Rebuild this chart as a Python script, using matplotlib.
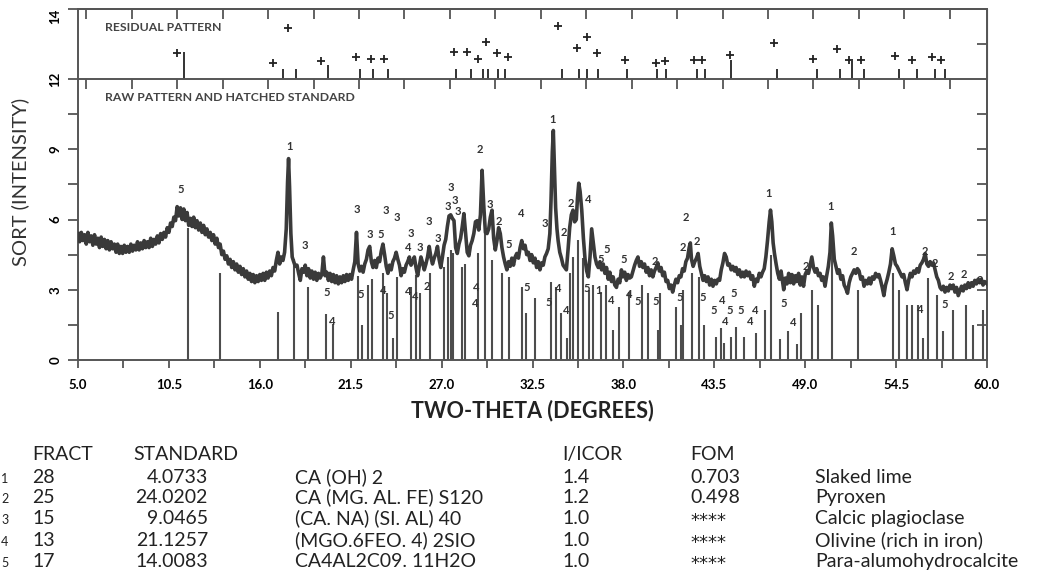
import matplotlib.pyplot as plt
from matplotlib.ticker import MultipleLocator, FixedLocator

# raw XRD pattern as (two-theta, sqrt intensity)
raw_low = [
    (5.00, 5.40), (5.10, 5.05), (5.20, 5.45), (5.30, 5.10), (5.40, 5.35), (5.50, 4.95), (5.60, 5.45),
    (5.70, 5.05), (5.80, 5.30), (5.90, 4.90), (6.00, 5.35), (6.10, 4.95), (6.20, 5.20), (6.30, 4.80),
    (6.40, 5.25), (6.50, 4.85), (6.60, 5.15), (6.70, 4.75), (6.80, 5.10), (6.90, 4.70), (7.00, 5.05),
    (7.10, 4.75), (7.20, 4.95), (7.30, 4.60), (7.40, 4.95), (7.50, 4.55), (7.60, 4.85), (7.70, 4.55),
    (7.80, 4.90), (7.90, 4.60), (8.00, 4.85), (8.10, 4.60), (8.20, 4.95), (8.30, 4.65), (8.40, 4.90),
    (8.50, 4.70), (8.60, 5.05), (8.70, 4.70), (8.80, 5.00), (8.90, 4.75), (9.00, 5.10), (9.10, 4.80),
    (9.20, 5.05), (9.30, 4.80), (9.40, 5.20), (9.50, 4.85), (9.60, 5.15), (9.70, 4.95), (9.80, 5.30),
    (9.90, 5.00), (10.00, 5.40), (10.10, 5.15), (10.20, 5.45), (10.30, 5.25), (10.40, 5.65), (10.50, 5.45),
    (10.60, 5.85), (10.70, 5.70), (10.80, 6.10), (10.90, 5.95), (11.00, 6.55), (11.10, 6.15), (11.20, 6.50),
    (11.30, 6.00), (11.40, 6.45), (11.50, 5.95), (11.60, 6.30), (11.70, 5.75), (11.80, 6.05), (11.90, 5.70),
    (12.00, 6.10), (12.10, 5.65), (12.20, 5.95), (12.30, 5.55), (12.40, 5.85), (12.50, 5.45), (12.60, 5.75),
    (12.70, 5.35), (12.80, 5.60), (12.90, 5.25), (13.00, 5.45), (13.10, 5.10), (13.20, 5.35), (13.30, 4.95),
    (13.40, 5.20), (13.50, 4.80), (13.60, 4.95), (13.70, 4.50), (13.80, 4.65), (13.90, 4.30), (14.00, 4.45),
    (14.10, 4.10), (14.20, 4.30), (14.30, 3.95), (14.40, 4.20), (14.50, 3.85), (14.60, 4.10), (14.70, 3.75),
    (14.80, 4.00), (14.90, 3.65), (15.00, 3.90), (15.10, 3.55), (15.20, 3.80), (15.30, 3.45), (15.40, 3.70),
    (15.50, 3.35), (15.60, 3.65), (15.70, 3.30), (15.80, 3.60), (15.90, 3.35), (16.00, 3.65), (16.10, 3.40),
    (16.20, 3.70), (16.30, 3.40), (16.40, 3.75), (16.50, 3.50), (16.60, 3.80), (16.70, 3.60), (16.80, 3.95),
    (16.90, 3.80), (17.00, 4.25), (17.10, 4.60), (17.20, 4.10), (17.30, 4.40), (17.40, 4.25), (17.50, 4.60),
    (17.60, 5.60), (17.68, 7.60), (17.74, 8.60), (17.80, 7.40), (17.88, 5.40), (17.96, 4.40), (18.05, 4.20),
    (18.15, 4.00), (18.25, 4.05), (18.35, 3.70), (18.45, 3.40), (18.55, 3.90), (18.65, 3.75), (18.75, 4.05),
    (18.85, 3.60), (18.95, 3.90),
]
raw_mid = [
    (19.05, 3.50), (19.15, 3.80), (19.25, 3.45), (19.35, 3.75), (19.45, 3.40), (19.55, 3.70), (19.65, 3.50),
    (19.75, 3.65), (19.85, 4.40), (19.95, 3.60), (20.05, 3.75), (20.15, 3.40), (20.25, 3.70), (20.35, 3.35),
    (20.45, 3.65), (20.55, 3.30), (20.65, 3.60), (20.75, 3.25), (20.85, 3.55), (20.95, 3.30), (21.05, 3.60),
    (21.15, 3.35), (21.25, 3.65), (21.35, 3.40), (21.45, 3.65), (21.55, 3.45), (21.65, 3.85), (21.75, 4.20),
    (21.85, 5.45), (21.95, 4.10), (22.05, 3.80), (22.15, 4.00), (22.25, 3.75), (22.35, 4.10), (22.45, 4.30),
    (22.55, 4.70), (22.65, 4.85), (22.75, 4.20), (22.85, 3.95), (22.95, 4.25), (23.05, 3.95), (23.15, 4.35),
    (23.25, 4.20), (23.35, 4.65), (23.45, 4.95), (23.55, 4.50), (23.65, 4.00), (23.75, 3.70), (23.85, 4.05),
    (23.95, 3.85), (24.05, 4.20), (24.15, 4.35), (24.25, 4.60), (24.35, 4.30), (24.45, 4.05), (24.55, 3.60),
    (24.65, 3.90), (24.75, 3.75), (24.85, 4.05), (24.95, 4.20), (25.05, 4.40), (25.15, 4.05), (25.25, 4.20),
    (25.35, 4.40), (25.45, 3.95), (25.55, 3.60), (25.65, 4.00), (25.75, 4.40), (25.85, 4.15), (25.95, 3.85),
    (26.05, 4.10), (26.15, 4.40), (26.25, 4.85), (26.35, 4.40), (26.45, 4.10), (26.55, 4.35), (26.65, 4.55),
    (26.75, 4.85), (26.85, 4.30), (26.95, 3.95), (27.05, 4.40), (27.15, 4.90), (27.25, 5.15), (27.35, 5.70),
    (27.45, 6.15), (27.55, 6.20), (27.65, 6.05), (27.75, 5.95), (27.85, 4.80), (27.95, 4.55), (28.05, 4.95),
    (28.15, 5.20), (28.25, 5.70), (28.35, 6.25), (28.45, 5.40), (28.55, 4.60), (28.65, 4.45), (28.75, 4.90),
    (28.85, 5.10), (28.95, 5.40), (29.05, 5.90), (29.15, 5.95), (29.25, 5.55), (29.35, 6.20), (29.45, 8.10),
    (29.55, 6.60), (29.65, 5.45), (29.75, 5.40), (29.85, 5.60), (29.95, 6.10), (30.05, 6.40), (30.15, 5.20),
    (30.25, 4.70), (30.35, 5.10), (30.45, 5.65), (30.55, 5.40), (30.65, 4.80), (30.75, 4.40), (30.85, 4.10),
    (30.95, 3.85), (31.05, 4.20), (31.15, 4.00), (31.25, 4.35), (31.35, 4.05), (31.45, 4.40), (31.55, 4.55),
    (31.65, 4.35), (31.75, 4.80), (31.85, 5.10), (31.95, 4.75), (32.05, 4.90), (32.15, 4.50), (32.25, 4.60),
    (32.35, 4.25), (32.45, 4.50), (32.55, 4.15), (32.65, 4.35), (32.75, 3.95), (32.85, 4.20), (32.95, 3.85),
]
raw_high = [
    (33.05, 4.15), (33.15, 4.05), (33.25, 4.40), (33.35, 4.55), (33.45, 4.75), (33.55, 5.40), (33.62, 6.80),
    (33.70, 8.90), (33.76, 9.80), (33.82, 8.40), (33.90, 6.50), (33.98, 5.60), (34.05, 5.10), (34.15, 4.60),
    (34.25, 4.35), (34.35, 4.05), (34.45, 3.95), (34.55, 3.85), (34.65, 4.70), (34.75, 5.65), (34.85, 6.20),
    (34.95, 6.40), (35.05, 5.90), (35.15, 6.00), (35.22, 6.90), (35.30, 7.55), (35.38, 7.20), (35.48, 6.40),
    (35.58, 5.20), (35.68, 4.30), (35.78, 3.80), (35.88, 3.55), (35.98, 4.40), (36.08, 5.60), (36.18, 5.00),
    (36.28, 4.40), (36.38, 4.10), (36.48, 3.95), (36.58, 4.20), (36.68, 3.85), (36.78, 4.10), (36.88, 3.70),
    (36.98, 3.95), (37.08, 3.45), (37.18, 3.75), (37.28, 3.35), (37.38, 3.55), (37.48, 3.20), (37.58, 3.10),
    (37.68, 3.45), (37.78, 3.30), (37.88, 3.85), (37.98, 3.55), (38.08, 3.75), (38.18, 3.40), (38.28, 3.65),
    (38.38, 3.50), (38.48, 3.55), (38.58, 3.80), (38.68, 4.05), (38.78, 4.25), (38.88, 4.40), (38.98, 4.00),
    (39.08, 4.20), (39.18, 3.95), (39.28, 4.10), (39.38, 3.75), (39.48, 3.95), (39.58, 3.60), (39.68, 3.85),
    (39.78, 3.55), (39.88, 3.80), (39.98, 3.95), (40.08, 4.15), (40.18, 3.80), (40.28, 3.95), (40.38, 3.60),
    (40.48, 3.75), (40.58, 3.35), (40.68, 3.40), (40.78, 3.05), (40.88, 3.20), (40.98, 2.90), (41.08, 3.20),
    (41.18, 3.45), (41.28, 3.30), (41.38, 3.60), (41.48, 3.55), (41.58, 3.90), (41.68, 3.80), (41.78, 4.20),
    (41.88, 4.35), (41.98, 4.80), (42.05, 5.00), (42.12, 4.30), (42.22, 4.00), (42.32, 4.20), (42.42, 4.35),
    (42.52, 4.55), (42.62, 4.00), (42.72, 3.70), (42.82, 3.40), (42.92, 3.60), (43.02, 3.35), (43.12, 3.55),
    (43.22, 3.20), (43.32, 3.45), (43.42, 3.15), (43.52, 3.40), (43.62, 3.25), (43.72, 3.45), (43.82, 3.40),
    (43.92, 3.85), (44.02, 4.15), (44.12, 4.55), (44.22, 4.40), (44.32, 4.05), (44.42, 4.10), (44.52, 3.85),
    (44.62, 4.00), (44.72, 3.80), (44.82, 3.95), (44.92, 3.65), (45.02, 3.85), (45.12, 3.55), (45.22, 3.75),
    (45.32, 3.55), (45.42, 3.80), (45.52, 3.60), (45.62, 3.75), (45.72, 3.45), (45.82, 3.60), (45.92, 3.15),
    (46.02, 3.45), (46.12, 3.35), (46.22, 3.70), (46.32, 3.55), (46.42, 3.75), (46.52, 3.90), (46.62, 4.40),
    (46.72, 5.10), (46.82, 5.90), (46.90, 6.40), (46.98, 5.90), (47.06, 5.00),
]
raw_tail = [
    (47.14, 4.55), (47.24, 4.10), (47.34, 3.70), (47.44, 3.45), (47.54, 3.80), (47.64, 3.30), (47.70, 3.00),
    (47.80, 3.50), (47.90, 3.25), (48.00, 3.70), (48.10, 3.30), (48.20, 3.65), (48.30, 3.25), (48.40, 3.60),
    (48.50, 3.35), (48.60, 3.70), (48.70, 3.20), (48.80, 3.55), (48.90, 3.15), (49.00, 3.65), (49.10, 3.80),
    (49.20, 3.70), (49.30, 4.05), (49.40, 4.40), (49.50, 3.95), (49.60, 3.75), (49.70, 3.90), (49.80, 3.60),
    (49.90, 3.70), (50.00, 3.40), (50.10, 3.55), (50.20, 3.15), (50.30, 3.60), (50.40, 4.00), (50.50, 4.60),
    (50.58, 5.85), (50.66, 5.30), (50.76, 4.30), (50.86, 4.00), (50.96, 3.70), (51.06, 3.85), (51.16, 3.45),
    (51.26, 3.60), (51.36, 3.20), (51.46, 3.05), (51.56, 2.85), (51.66, 3.30), (51.76, 3.55), (51.86, 3.70),
    (51.96, 3.85), (52.06, 3.70), (52.16, 3.90), (52.26, 3.80), (52.36, 3.45), (52.46, 3.55), (52.56, 3.15),
    (52.66, 3.40), (52.76, 3.25), (52.86, 3.50), (52.96, 3.25), (53.06, 3.55), (53.16, 3.45), (53.26, 3.70),
    (53.36, 3.55), (53.46, 3.65), (53.56, 3.40), (53.66, 3.10), (53.76, 2.75), (53.86, 3.20), (53.96, 3.45),
    (54.06, 3.75), (54.16, 4.10), (54.26, 4.75), (54.36, 4.45), (54.46, 4.10), (54.56, 4.00), (54.66, 3.85),
    (54.76, 3.70), (54.86, 3.55), (54.96, 3.65), (55.06, 3.30), (55.16, 3.00), (55.26, 3.40), (55.36, 3.70),
    (55.46, 3.55), (55.56, 3.80), (55.66, 3.70), (55.76, 3.90), (55.86, 3.75), (55.96, 4.05), (56.06, 4.15),
    (56.16, 4.30), (56.26, 4.55), (56.36, 4.10), (56.46, 4.00), (56.56, 4.20), (56.66, 4.05), (56.76, 4.15),
    (56.86, 3.85), (56.96, 3.55), (57.06, 3.40), (57.16, 3.10), (57.26, 3.00), (57.36, 3.15), (57.46, 2.90),
    (57.56, 3.10), (57.66, 2.95), (57.76, 3.20), (57.86, 3.05), (57.96, 3.20), (58.06, 2.90), (58.16, 3.10),
    (58.26, 2.75), (58.36, 2.95), (58.46, 3.15), (58.56, 2.95), (58.66, 3.20), (58.76, 3.05), (58.86, 3.30),
    (58.96, 3.10), (59.06, 3.30), (59.16, 3.15), (59.26, 3.40), (59.36, 3.25), (59.46, 3.45), (59.56, 3.30),
    (59.66, 3.45), (59.76, 3.20), (59.86, 3.35), (60.00, 3.25),
]

# hatched standard sticks (two-theta, height)
sticks = [
    (11.67, 5.62), (13.59, 3.73), (17.08, 2.06), (18.05, 4.30), (18.94, 3.13), (19.98, 1.95), (20.45, 1.55),
    (21.96, 3.60), (22.20, 1.49), (22.56, 3.20), (22.77, 3.48), (23.47, 3.70), (23.71, 2.85), (24.08, 0.92),
    (24.32, 3.56), (25.15, 3.13), (25.45, 3.63), (25.69, 2.85), (26.30, 3.70), (27.16, 3.98), (27.36, 4.41),
    (27.57, 4.69), (27.71, 4.55), (28.21, 3.98), (28.41, 4.10), (29.22, 4.55), (29.62, 5.41), (30.03, 4.27),
    (30.65, 3.70), (31.10, 3.56), (31.84, 3.13), (32.08, 1.99), (32.68, 2.63), (33.60, 3.34), (33.92, 3.13),
    (34.23, 1.99), (34.57, 0.92), (34.77, 3.70), (34.97, 4.41), (35.23, 5.12), (35.58, 4.34), (35.92, 2.99),
    (36.18, 3.20), (36.63, 2.92), (36.93, 3.20), (37.39, 1.28), (37.76, 2.28), (38.34, 2.92), (39.11, 3.20),
    (39.47, 2.85), (40.07, 1.28), (40.22, 2.85), (41.16, 2.28), (41.47, 1.49), (41.63, 2.99), (42.13, 3.70),
    (42.60, 3.56), (42.88, 1.49), (43.58, 0.99), (43.91, 1.35), (44.09, 0.71), (44.51, 0.99), (44.81, 1.42),
    (45.32, 0.99), (46.02, 1.14), (46.59, 2.15), (46.94, 4.50), (47.48, 0.88), (47.98, 1.25), (48.49, 0.67),
    (48.75, 2.02), (49.40, 2.99), (49.76, 2.35), (50.65, 4.84), (52.18, 2.99), (54.30, 3.70), (54.70, 2.99),
    (55.18, 2.35), (55.49, 2.35), (55.81, 2.35), (56.11, 0.92), (56.40, 3.49), (56.96, 2.77), (57.36, 1.25),
    (57.97, 2.13), (58.71, 2.35), (59.18, 1.49), (59.74, 2.13),
]

# phase numbers written over the peaks (two-theta, y, phase)
peak_labels = [
    (11.20, 7.30, "5"), (17.83, 9.10, "1"), (18.73, 4.88, "3"), (20.04, 2.87, "5"), (20.35, 1.63, "4"),
    (21.86, 6.43, "3"), (22.12, 2.80, "5"), (22.67, 5.36, "3"), (23.31, 5.36, "5"), (23.61, 6.40, "3"),
    (24.32, 6.08, "3"), (23.47, 2.96, "4"), (23.92, 1.92, "5"), (25.13, 5.41, "3"), (24.99, 4.81, "4"),
    (25.69, 4.80, "3"), (24.99, 2.94, "4"), (25.39, 2.73, "4"), (26.20, 5.93, "3"), (26.13, 3.16, "2"),
    (26.80, 5.19, "3"), (27.36, 6.55, "3"), (27.57, 7.36, "3"), (27.81, 6.83, "3"), (27.97, 6.33, "3"),
    (29.32, 9.01, "2"), (29.93, 6.65, "3"), (30.47, 5.90, "2"), (31.04, 4.94, "5"), (29.08, 3.09, "4"),
    (29.02, 2.42, "4"), (31.80, 6.26, "4"), (32.15, 3.09, "5"), (33.72, 10.25, "1"), (33.26, 5.83, "3"),
    (33.46, 2.45, "5"), (34.06, 3.06, "4"), (34.53, 2.10, "4"), (34.37, 5.45, "2"), (34.81, 6.69, "2"),
    (35.88, 6.87, "4"), (36.99, 4.72, "5"), (36.63, 4.31, "5"), (35.78, 3.06, "5"), (36.48, 2.96, "1"),
    (37.29, 2.53, "4"), (38.04, 4.30, "5"), (38.34, 2.80, "4"), (38.86, 2.49, "5"), (39.91, 4.20, "2"),
    (39.97, 2.49, "5"), (41.79, 6.08, "2"), (41.57, 4.81, "2"), (42.43, 5.05, "2"), (41.39, 2.67, "5"),
    (42.80, 2.67, "5"), (43.95, 2.56, "4"), (44.69, 2.85, "5"), (43.44, 2.10, "5"), (44.45, 2.10, "5"),
    (45.12, 2.10, "5"), (45.96, 2.10, "4"), (44.15, 1.63, "4"), (45.70, 1.63, "4"), (46.77, 7.11, "1"),
    (49.03, 3.98, "2"), (47.72, 2.42, "5"), (48.29, 1.59, "4"), (50.51, 6.57, "1"), (51.96, 4.62, "2"),
    (54.30, 5.48, "1"), (56.25, 4.65, "2"), (56.86, 4.10, "2"), (55.95, 2.16, "4"), (57.46, 2.35, "5"),
    (57.81, 3.56, "2"), (58.61, 3.63, "2"), (59.58, 3.41, "2"),
]

# residual pattern: crosses and short bars above the 12 line
residual_marks = [
    (10.97, 12.75), (16.82, 12.47), (17.73, 13.45), (19.70, 12.52), (21.82, 12.64), (22.73, 12.58),
    (23.52, 12.58), (27.77, 12.78), (28.52, 12.78), (29.23, 12.58), (29.69, 13.05), (30.33, 12.75),
    (31.00, 12.64), (34.03, 13.52), (35.18, 12.88), (35.78, 13.20), (36.39, 12.74), (38.10, 12.54),
    (39.98, 12.46), (40.52, 12.52), (42.29, 12.54), (42.77, 12.54), (44.45, 12.69), (47.11, 13.02),
    (49.45, 12.57), (50.90, 12.85), (51.67, 12.54), (52.37, 12.54), (54.43, 12.67), (55.48, 12.55),
    (56.65, 12.64), (57.21, 12.55),
]
residual_bars = [
    (11.43, 12.78), (17.38, 12.28), (18.19, 12.28), (20.15, 12.40), (22.07, 12.28), (22.87, 12.28),
    (23.74, 12.28), (27.85, 12.28), (28.76, 12.28), (29.49, 12.28), (29.83, 12.28), (30.44, 12.28),
    (30.84, 12.28), (34.27, 12.28), (35.34, 12.28), (35.78, 12.28), (36.49, 12.28), (38.20, 12.28),
    (40.02, 12.28), (40.58, 12.28), (42.43, 12.28), (42.93, 12.28), (44.49, 12.55), (47.31, 12.28),
    (49.69, 12.28), (51.10, 12.28), (51.81, 12.52), (52.57, 12.28), (54.69, 12.28), (55.78, 12.28),
    (56.85, 12.28), (57.45, 12.28),
]

# identification table under the chart
table_header = ["FRACT", "STANDARD", "I/ICOR", "FOM"]
fract = ["28", "25", "15", "13", "17"]
standard = ["4.0733", "24.0202", "9.0465", "21.1257", "14.0083"]
formula = ["CA (OH) 2", "CA (MG. AL. FE) S120", "(CA. NA) (SI. AL) 40", "(MGO.6FEO. 4) 2SIO", "CA4AL2C09. 11H2O"]
i_icor = ["1.4", "1.2", "1.0", "1.0", "1.0"]
fom = ["0.703", "0.498", "****", "****", "****"]
mineral = ["Slaked lime", "Pyroxen", "Calcic plagioclase", "Olivine (rich in iron)", "Para-alumohydrocalcite"]

W, H = 1045, 574
AX_COL = '#555555'
FONT = ['Lato', 'DejaVu Sans']


def fx(px):
    return px / W


def fy(py):
    return 1 - py / H


fig = plt.figure(figsize=(W / 100, H / 100), dpi=100)
left, right = 78, 987
ax = fig.add_axes([fx(left), fy(360), fx(right - left), (360 - 79) / H])
ax_top = fig.add_axes([fx(left), fy(79), fx(right - left), (79 - 9) / H])

# main pattern
for t, h in sticks:
    ax.plot([t, t], [0, h], color='#4d4d4d', lw=1.5, solid_capstyle='butt', zorder=2)
trace = raw_low + raw_mid + raw_high + raw_tail
ax.plot([p[0] for p in trace], [p[1] for p in trace], color='#3a3a3a', lw=2.6, zorder=3)
for t, y, s in peak_labels:
    ax.text(t, y, s, ha='center', va='center', fontsize=8, fontweight='bold', color='#333333',
            family=FONT, zorder=4)

ax.set_xlim(5, 60)
ax.set_ylim(0, 12)
ax.spines['top'].set_visible(False)
for sp in ax.spines.values():
    sp.set_color(AX_COL)
    sp.set_linewidth(1.4)
ax.xaxis.set_major_locator(FixedLocator([5 + 5.5 * i for i in range(11)]))
ax.xaxis.set_minor_locator(FixedLocator([7.75 + 5.5 * i for i in range(10)]))
ax.set_xticklabels([f"{5 + 5.5 * i:.1f}" for i in range(11)])
ax.tick_params(axis='x', which='both', direction='out', length=6, width=1.3, color=AX_COL,
               labelsize=9.5, pad=8)
for lbl in ax.get_xticklabels():
    lbl.set_fontweight('bold')
    lbl.set_family(FONT)
ax.yaxis.set_major_locator(FixedLocator([0, 3, 6, 9]))
ax.yaxis.set_minor_locator(FixedLocator([1.5, 4.5, 7.5, 10.5]))
ax.tick_params(axis='y', which='both', direction='out', length=7, width=1.3, color=AX_COL,
               labelsize=9.5, pad=5)
for lbl in ax.get_yticklabels():
    lbl.set_rotation(90)
    lbl.set_va('center')
    lbl.set_fontweight('bold')
    lbl.set_family(FONT)
sec_r = ax.secondary_yaxis('right')
sec_r.yaxis.set_major_locator(FixedLocator([1.5 * i for i in range(1, 8)]))
sec_r.tick_params(direction='in', length=7, width=1.3, color=AX_COL, labelright=False)
sec_r.spines['right'].set_color(AX_COL)
sec_r.spines['right'].set_linewidth(1.4)
ax.text(0.03, 0.935, "RAW PATTERN AND HATCHED STANDARD", transform=ax.transAxes, fontsize=8.8,
        fontweight='bold', color='#444444', family=FONT, va='center')

# residual panel
for t, h in residual_bars:
    ax_top.plot([t, t], [12, h], color='#333333', lw=1.4, solid_capstyle='butt')
ax_top.plot([p[0] for p in residual_marks], [p[1] for p in residual_marks], ls='none', marker='+',
            ms=5.5, mew=1.3, color='#222222')
ax_top.set_xlim(5, 60)
ax_top.set_ylim(12, 14)
for sp in ax_top.spines.values():
    sp.set_color(AX_COL)
    sp.set_linewidth(1.4)
ax_top.xaxis.set_major_locator(MultipleLocator(2.75))
ax_top.tick_params(axis='x', direction='out', length=7, width=1.3, color=AX_COL, labelbottom=False)
sec_t = ax_top.secondary_xaxis('top')
sec_t.xaxis.set_major_locator(MultipleLocator(2.75))
sec_t.tick_params(direction='in', length=7, width=1.3, color=AX_COL, labeltop=False)
sec_t.spines['top'].set_color(AX_COL)
sec_t.spines['top'].set_linewidth(1.4)
ax_top.yaxis.set_major_locator(FixedLocator([12, 14]))
ax_top.tick_params(axis='y', direction='out', length=7, width=1.3, color=AX_COL, labelsize=9.5, pad=5)
for lbl in ax_top.get_yticklabels():
    lbl.set_rotation(90)
    lbl.set_fontweight('bold')
    lbl.set_family(FONT)
    lbl.set_va('center')
ax_top.get_yticklabels()[1].set_va('top')
sec_tr = ax_top.secondary_yaxis('right')
sec_tr.yaxis.set_major_locator(FixedLocator([13]))
sec_tr.tick_params(direction='in', length=7, width=1.3, color=AX_COL, labelright=False)
sec_tr.spines['right'].set_color(AX_COL)
ax_top.text(0.03, 0.73, "RESIDUAL PATTERN", transform=ax_top.transAxes, fontsize=8.8,
            fontweight='bold', color='#444444', family=FONT, va='center')

# axis titles
fig.text(fx(20), fy(182), "SORT (INTENSITY)", rotation=90, ha='center', va='center',
         fontsize=14.5, color='#333333', family=FONT)
fig.text(fx(532), fy(411), "TWO-THETA (DEGREES)", ha='center', va='center',
         fontsize=15.5, fontweight='bold', color='#222222', family=FONT)

# table, every line set on a common baseline
tkw = dict(fontsize=14, color='#222222', family=FONT, va='baseline')
BASE = 6
fig.text(fx(32), fy(454 + BASE), table_header[0], **tkw)
fig.text(fx(133), fy(454 + BASE), table_header[1], **tkw)
fig.text(fx(562), fy(454 + BASE), table_header[2], **tkw)
fig.text(fx(690), fy(454 + BASE), table_header[3], **tkw)
row_y = [477, 497, 518, 540, 561]
for i, y in enumerate(row_y):
    yb = fy(y + BASE)
    fig.text(fx(1), yb, str(i + 1), ha='left', fontsize=9, color='#222222', family=FONT, va='baseline')
    fig.text(fx(32), yb, fract[i], **tkw)
    fig.text(fx(208), yb, standard[i], ha='right', **tkw)
    fig.text(fx(295), yb, formula[i], **tkw)
    fig.text(fx(562), yb, i_icor[i], **tkw)
    if fom[i].startswith('*'):
        # asterisks drawn a little larger, as in the source table
        fig.text(fx(690), fy(y + 8), fom[i], fontsize=13, color='#222222', family='DejaVu Sans',
                 va='baseline')
    else:
        fig.text(fx(690), yb, fom[i], **tkw)
    fig.text(fx(815), yb, mineral[i], **tkw)

fig.savefig('out.png', dpi=100)
